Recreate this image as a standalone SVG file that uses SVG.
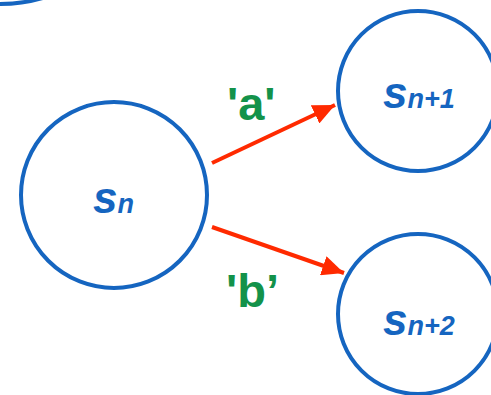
<svg xmlns="http://www.w3.org/2000/svg" width="491" height="395" viewBox="0 0 491 395">
<style>
.node{fill:none;stroke:#1565C0;stroke-width:4}
.lbl{font-family:"Liberation Sans",Arial,sans-serif;font-weight:bold;font-style:italic;fill:#1565C0}
.s{font-size:44px}
.sub{font-size:27px}
.edge{stroke:#FF2A00;stroke-width:4;fill:none}
.el{font-family:"Liberation Sans",Arial,sans-serif;font-weight:bold;font-size:47px;fill:#13924A}
</style>
<defs>
<marker id="ah" markerUnits="userSpaceOnUse" markerWidth="24" markerHeight="20" refX="22" refY="10" orient="auto">
<path d="M0,0 L22,10 L0,20 Z" fill="#FF2A00"/>
</marker>
</defs>
<g id="node-top">
<circle class="node" cx="0" cy="-151" r="155"/>
</g>
<g id="node-sn">
<circle class="node" cx="114" cy="195" r="93"/>
<text class="lbl" x="93" y="213"><tspan class="s">s</tspan><tspan class="sub">n</tspan></text>
</g>
<g id="node-sn1">
<circle class="node" cx="418" cy="91" r="80"/>
<text class="lbl" x="383" y="108"><tspan class="s">s</tspan><tspan class="sub">n+1</tspan></text>
</g>
<g id="node-sn2">
<circle class="node" cx="418" cy="314" r="80"/>
<text class="lbl" x="383" y="335"><tspan class="s">s</tspan><tspan class="sub">n+2</tspan></text>
</g>
<g id="connectors">
<line class="edge" x1="212" y1="163" x2="335" y2="105" marker-end="url(#ah)"/>
<line class="edge" x1="212" y1="227" x2="344" y2="273" marker-end="url(#ah)"/>
<text class="el" x="227" y="120">'a'</text>
<text class="el" x="226" y="307">'b’</text>
</g>
</svg>
